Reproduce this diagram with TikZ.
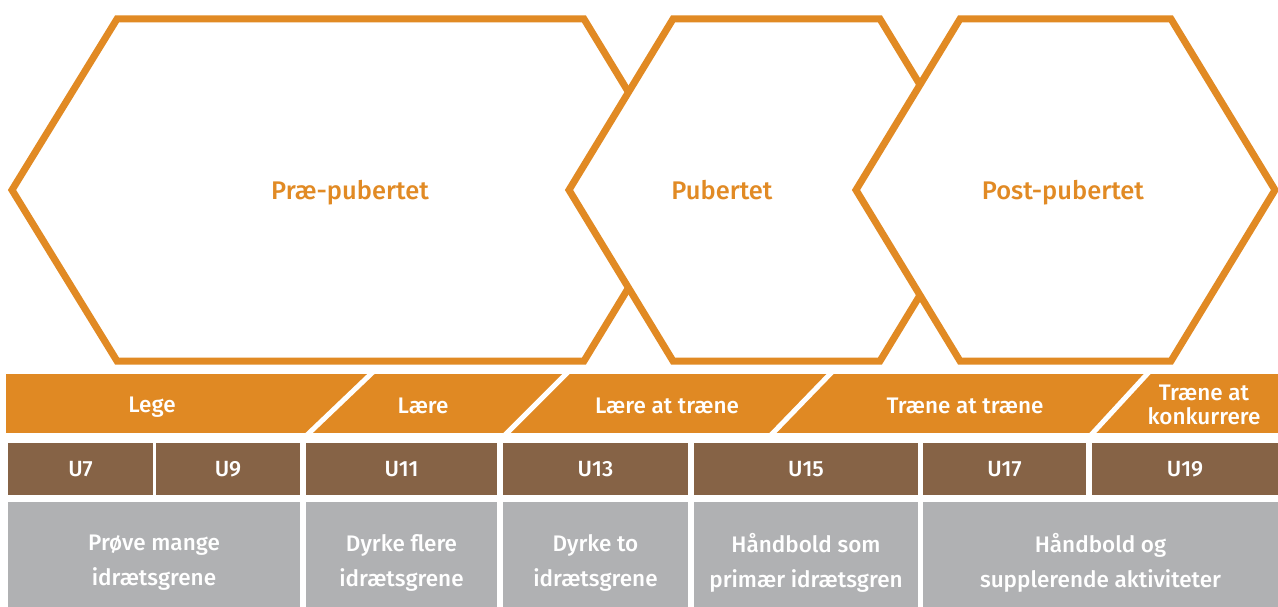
\documentclass[tikz,border=0pt]{standalone}
\usepackage{fontspec}
\setmainfont{Fira Sans}[BoldFont={Fira Sans Medium}]
\definecolor{hexorange}{RGB}{225,138,36}
\definecolor{bandorange}{RGB}{224,137,35}
\definecolor{cellbrown}{RGB}{134,99,70}
\definecolor{cellgray}{RGB}{176,177,179}
\begin{document}
\begin{tikzpicture}[x=1pt,y=-1pt,
  hexline/.style={draw=hexorange,line width=7pt,fill=white,line join=miter},
  hexlabel/.style={text=hexorange,font=\fontsize{25.5}{30}\selectfont\bfseries},
  bandlabel/.style={text=white,font=\fontsize{22.5}{24}\selectfont\bfseries,align=center},
  cutline/.style={draw=white,line width=5pt},
  brownbox/.style={fill=cellbrown,inner sep=0pt,outer sep=0pt,minimum height=52pt,text=white,font=\fontsize{22}{26}\selectfont\bfseries},
  graybox/.style={fill=cellgray,inner sep=0pt,outer sep=0pt,minimum height=105pt},
  graytext/.style={text=white,font=\fontsize{22.5}{35}\selectfont\bfseries,align=center}]
\useasboundingbox (0,0) rectangle (1278,607);
% hexagons
\draw[hexline] (12,190) -- (117,19) -- (584,19) -- (688,190) -- (584,361) -- (117,361) -- cycle;
\draw[hexline] (569,190) -- (673,19) -- (880,19) -- (984,190) -- (880,361) -- (673,361) -- cycle;
\draw[hexline] (856,190) -- (960,19) -- (1171,19) -- (1275,190) -- (1171,361) -- (960,361) -- cycle;
\node[hexlabel] (prae) at (350,193) {Præ-pubertet};
\node[hexlabel] (pub) at (722,190) {Pubertet};
\node[hexlabel] (post) at (1063,193) {Post-pubertet};
% band
\fill[bandorange] (6,374) rectangle (1278,433);
\coordinate (c1t) at (373,372); \coordinate (c1b) at (307,435);
\coordinate (c2t) at (568,372); \coordinate (c2b) at (505,435);
\coordinate (c3t) at (832,372); \coordinate (c3b) at (771,435);
\coordinate (c4t) at (1149,372); \coordinate (c4b) at (1091,435);
\draw[cutline] (c1t) -- (c1b);
\draw[cutline] (c2t) -- (c2b);
\draw[cutline] (c3t) -- (c3b);
\draw[cutline] (c4t) -- (c4b);
\node[bandlabel] (lege) at (152,407) {Lege};
\node[bandlabel] (laere) at (423,406) {Lære};
\node[bandlabel] (laereat) at (667,406) {Lære at træne};
\node[bandlabel] (traene) at (965,406) {Træne at træne};
\node[bandlabel] (konk) at (1204,405) {Træne at\\konkurrere};
% brown row
\node[brownbox,minimum width=145pt] (u7) at (80.5,469) {U7};
\node[brownbox,minimum width=144pt] (u9) at (228,469) {U9};
\node[brownbox,minimum width=191pt] (u11) at (401.5,469) {U11};
\node[brownbox,minimum width=185pt] (u13) at (595.5,469) {U13};
\node[brownbox,minimum width=224pt] (u15) at (806,469) {U15};
\node[brownbox,minimum width=163pt] (u17) at (1004.5,469) {U17};
\node[brownbox,minimum width=186pt] (u19) at (1185,469) {U19};
% gray row
\node[graybox,minimum width=292pt] (g1) at (154,554.5) {};
\node[graybox,minimum width=191pt] (g2) at (401.5,554.5) {};
\node[graybox,minimum width=185pt] (g3) at (595.5,554.5) {};
\node[graybox,minimum width=224pt] (g4) at (806,554.5) {};
\node[graybox,minimum width=355pt] (g5) at (1100.5,554.5) {};
\node[graytext] (t1) at (154,562.5) {Prøve mange\\idrætsgrene};
\node[graytext] (t2) at (401.5,562.5) {Dyrke flere\\idrætsgrene};
\node[graytext] (t3) at (595.5,562.5) {Dyrke to\\idrætsgrene};
\node[graytext] (t4) at (806,562.5) {Håndbold som\\primær idrætsgren};
\node[graytext] (t5) at (1100.5,562.5) {Håndbold og\\supplerende aktiviteter};
\end{tikzpicture}
\end{document}
